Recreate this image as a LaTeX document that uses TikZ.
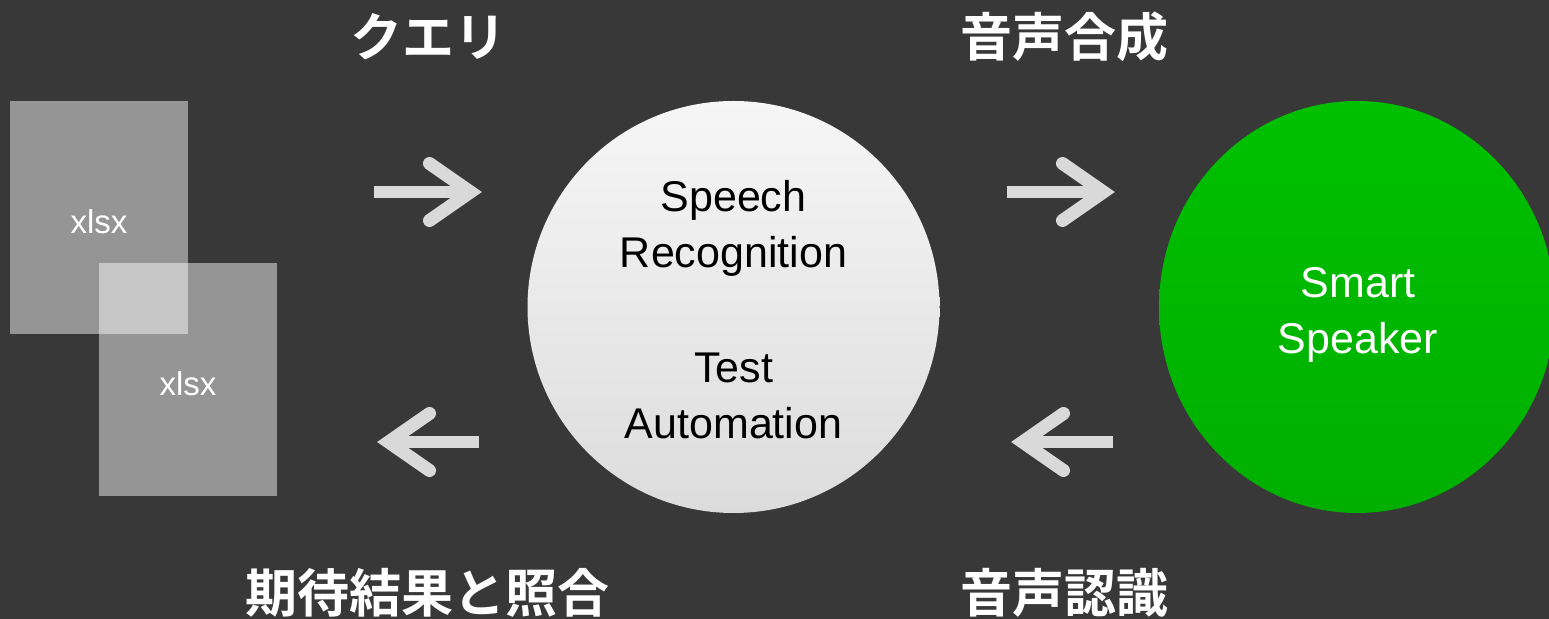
\documentclass[tikz,border=0pt]{standalone}
\usepackage{fontspec}
\setmainfont{Liberation Sans}
\newfontfamily\jpfont{Noto Sans CJK JP Bold}
\usetikzlibrary{shapes.geometric}
\definecolor{bg}{HTML}{383838}
\definecolor{arrowgray}{HTML}{D9D9D9}
\definecolor{circtop}{HTML}{F6F6F6}
\definecolor{circbot}{HTML}{DCDCDC}
\definecolor{greentop}{HTML}{00C000}
\definecolor{greenbot}{HTML}{00AF00}
\tikzset{
  docbox/.style={rectangle, minimum width=89pt, minimum height=116.5pt, inner sep=0pt,
    fill=white, fill opacity=0.47, text opacity=1, text=white,
    font=\fontsize{16.5pt}{20pt}\selectfont},
  shaft/.style={draw=arrowgray, line width=6pt, line cap=butt},
  arm/.style={draw=arrowgray, line width=6.5pt, line cap=round, line join=miter},
  jlabel/.style={text=white, inner sep=0pt, font=\jpfont\fontsize{26pt}{30pt}\selectfont},
  bigtext/.style={align=center, inner sep=0pt, font=\fontsize{21.5pt}{28pt}\selectfont},
  rarr/.pic={
    \draw[shaft] (-108,0) -- (-11.5,0);
    \draw[arm] (-52.5,-28.5) -- (-11.5,0) -- (-52.5,28.5);
  },
  larr/.pic={
    \draw[shaft] (-102,0) -- (-11.5,0);
    \draw[arm] (-52.5,-28.5) -- (-11.5,0) -- (-52.5,28.5);
  }
}
\begin{document}
\begin{tikzpicture}[x=0.5pt,y=-0.5pt]
\fill[bg] (0,0) rectangle (1549,619);
\useasboundingbox (0,0) rectangle (1549,619);

% documents
\node[docbox] (doc1) at (99,217.5) {};
\node[docbox] (doc2) at (188,379.5) {};
\node[text=white, inner sep=0pt, font=\fontsize{16.5pt}{20pt}\selectfont] (doc1t) at (99,221.5) {xlsx};
\node[text=white, inner sep=0pt, font=\fontsize{16.5pt}{20pt}\selectfont] (doc2t) at (188,383.5) {xlsx};

% central circle
\node[circle, minimum size=206pt, inner sep=0pt, top color=circtop, bottom color=circbot, draw=none] (sr) at (733.5,307) {};
\node[bigtext, text=black] (srtext) at (733.5,310) {Speech\\Recognition\\[29.5pt]Test\\Automation};

% smart speaker
\node[ellipse, minimum width=198pt, minimum height=206pt, inner sep=0pt, top color=greentop, bottom color=greenbot, draw=none] (spk) at (1357,307) {};
\node[bigtext, text=white] (spktext) at (1358,314.5) {Smart\\Speaker};

% arrows
\coordinate (a1) at (482,192);
\coordinate (a2) at (1115,192);
\coordinate (a3) at (377,442);
\coordinate (a4) at (1011,442);
\pic at (a1) {rarr};
\pic at (a2) {rarr};
\pic[rotate=180] at (a3) {larr};
\pic[rotate=180] at (a4) {larr};

% labels
\node[jlabel] (lq) at (428,37) {クエリ};
\node[jlabel] (lt) at (1064,37) {音声合成};
\node[jlabel] (lc) at (427,592.5) {期待結果と照合};
\node[jlabel] (lr) at (1064,592.5) {音声認識};
\end{tikzpicture}
\end{document}
